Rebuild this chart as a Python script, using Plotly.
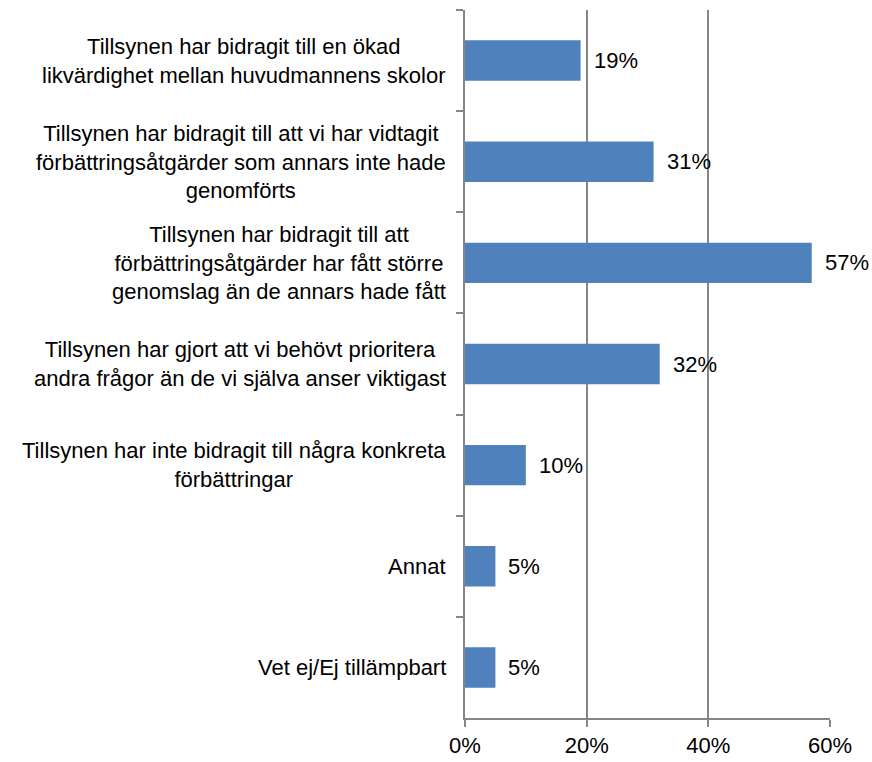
import plotly.graph_objects as go

categories = [
    "Tillsynen har bidragit till en ökad<br>likvärdighet mellan huvudmannens skolor",
    "Tillsynen har bidragit till att vi har vidtagit<br>förbättringsåtgärder som annars inte hade<br>genomförts",
    "Tillsynen har bidragit till att<br>förbättringsåtgärder har fått större<br>genomslag än de annars hade fått",
    "Tillsynen har gjort att vi behövt prioritera<br>andra frågor än de vi själva anser viktigast",
    "Tillsynen har inte bidragit till några konkreta<br>förbättringar",
    "Annat",
    "Vet ej/Ej tillämpbart",
]
values = [19, 31, 57, 32, 10, 5, 5]
x_ticks = [0, 20, 40, 60]
x_tick_labels = ["0%", "20%", "40%", "60%"]

FONT = "Liberation Sans"
FS = 22
keys = [f"c{i}" for i in range(len(categories))]

fig = go.Figure()
fig.add_trace(go.Bar(
    x=values, y=keys, orientation="h",
    marker=dict(color="#4F81BD", line=dict(width=0)),
    hoverinfo="skip",
))

ann = []
for k, lab in zip(keys, categories):
    ann.append(dict(
        x=0, xref="paper", y=k, yref="y", text=lab, showarrow=False,
        xanchor="right", yanchor="middle", align="center", xshift=-17, yshift=0,
        font=dict(family=FONT, size=FS, color="#000000"),
    ))
for k, v in zip(keys, values):
    ann.append(dict(
        x=v, xref="x", y=k, yref="y", text=f"{v}%", showarrow=False,
        xanchor="left", yanchor="middle", xshift=11, yshift=0,
        font=dict(family=FONT, size=FS, color="#000000"),
    ))

GRAY = "#868686"
fig.update_layout(
    width=872, height=762,
    margin=dict(l=465, r=42, t=10, b=44, autoexpand=False),
    paper_bgcolor="white", plot_bgcolor="white",
    showlegend=False,
    bargap=0.6,
    annotations=ann,
    font=dict(family=FONT, size=FS, color="#000000"),
    xaxis=dict(
        range=[0, 60], tickvals=x_ticks, ticktext=x_tick_labels,
        showgrid=True, gridcolor=GRAY, gridwidth=1.5,
        zeroline=False, showline=True, linecolor=GRAY, linewidth=1.5,
        ticks="outside", ticklen=7, tickcolor=GRAY, tickwidth=1.5,
        tickfont=dict(family=FONT, size=FS, color="#000000"),
        automargin=False, fixedrange=True,
    ),
    yaxis=dict(
        autorange="reversed", showgrid=False, zeroline=False,
        showline=True, linecolor=GRAY, linewidth=1.5,
        ticks="outside", ticklen=7, tickcolor=GRAY, tickwidth=1.5,
        tickson="boundaries", showticklabels=False,
        automargin=False, fixedrange=True,
    ),
)

fig.write_html(
    "out.html",
    config={"displayModeBar": False},
    post_script="document.body.style.margin='0';document.body.style.overflow='hidden';",
)
